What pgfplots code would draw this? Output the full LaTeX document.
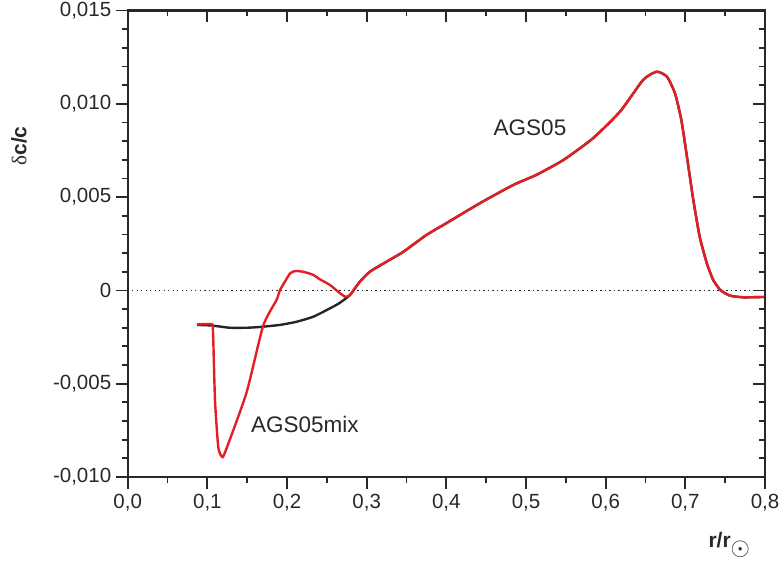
\documentclass[border=0pt]{standalone}
\usepackage{pgfplots}
\pgfplotsset{compat=1.18}
\usepackage{fontspec}
\setmainfont{Liberation Sans}
\newfontfamily\serif{Liberation Serif}

\definecolor{curvered}{RGB}{227,30,36}
\definecolor{txt}{RGB}{40,40,40}

\pgfplotstableread{
x y
0.087 -0.00182
0.100 -0.00180
0.105 -0.00182
0.107 -0.0021
0.1096 -0.0059
0.1137 -0.0084
0.118 -0.0089
0.122 -0.0087
0.149 -0.0055
0.170 -0.0019
0.187 -0.0005
0.191 0.0000
0.204 0.00092
0.212 0.00104
0.222 0.00098
0.233 0.00083
0.241 0.0006
0.254 0.00029
0.265 -0.0001
0.273 -0.00034
0.279 -0.00025
0.2915 0.00047
0.304 0.0010
0.325 0.00154
0.346 0.00207
0.375 0.00297
0.400 0.0036
0.442 0.00467
0.484 0.00565
0.513 0.00619
0.547 0.00699
0.584 0.00815
0.618 0.00958
0.647 0.01128
0.664 0.01172
0.677 0.01145
0.687 0.01056
0.695 0.00913
0.702 0.00717
0.710 0.00485
0.718 0.00288
0.727 0.00145
0.735 0.00056
0.744 0.00002
0.756 -0.00028
0.773 -0.00037
0.800 -0.00035
}\mixtable

\pgfplotstableread{
x y
0.087 -0.00185
0.105 -0.00188
0.128 -0.0020
0.150 -0.0020
0.166 -0.00196
0.191 -0.00185
0.212 -0.00168
0.233 -0.00141
0.254 -0.00096
0.265 -0.0007
0.279 -0.00025
0.2915 0.00047
0.304 0.0010
0.325 0.00154
0.346 0.00207
0.375 0.00297
0.400 0.0036
0.442 0.00467
0.484 0.00565
0.513 0.00619
0.547 0.00699
0.584 0.00815
0.618 0.00958
0.647 0.01128
0.664 0.01172
0.677 0.01145
0.687 0.01056
0.695 0.00913
0.702 0.00717
0.710 0.00485
0.718 0.00288
0.727 0.00145
0.735 0.00056
0.744 0.00002
0.756 -0.00028
0.773 -0.00037
0.800 -0.00035
}\agstable

\pgfplotsset{
  common/.style={
    scale only axis, width=637.3pt, height=466.5pt,
    xmin=0, xmax=0.8, ymin=-0.010, ymax=0.015,
    xtick={0,0.1,...,0.8}, ytick={-0.010,-0.005,0,0.005,0.010,0.015},
    minor x tick num=1, minor y tick num=4,
    major tick length=12pt, minor tick length=6pt,
    axis line style={line width=2.2pt, color=txt},
    every tick/.style={line width=1.8pt, color=txt},
    scaled ticks=false,
  }
}

\begin{document}
\begin{tikzpicture}
\begin{axis}[common, name=ax,
    tick align=outside, xtick pos=bottom, ytick pos=left,
    xticklabels={0{,}0,0{,}1,0{,}2,0{,}3,0{,}4,0{,}5,0{,}6,0{,}7,0{,}8},
    yticklabels={-0{,}010,-0{,}005,0,0{,}005,0{,}010,0{,}015},
    tick label style={font=\fontsize{20.5}{22}\selectfont, text=txt},
    xticklabel style={yshift=-2pt},
    yticklabel style={xshift=-1pt},
    every axis y label/.style={at={(rel axis cs:-0.1706,0.7096)}, anchor=center, rotate=90},
    every axis x label/.style={at={(rel axis cs:0.944,-0.146)}, anchor=center},
    ylabel={\fontsize{21}{24}\selectfont\color{txt}{\serif δ}\textbf{c/c}},
    xlabel={\fontsize{21}{24}\selectfont\color{txt}\textbf{r/r}\raisebox{-0.75ex}{\fontsize{27}{27}\selectfont$\odot$}},
    clip=false,
  ]
  \addplot[line width=1pt, color=txt, dash pattern=on 1.3pt off 3.2pt] coordinates {(0,0) (0.8,0)};
  \addplot[line width=2.4pt, color=black!85, smooth, tension=0.35] table[x=x,y=y] {\agstable};
  \addplot[line width=2.4pt, color=curvered, smooth, tension=0.35] table[x=x,y=y] {\mixtable};
  \node[font=\fontsize{22.5}{24}\selectfont, text=txt] at (axis cs:0.505,0.0087) {AGS05};
  \node[font=\fontsize{22.5}{24}\selectfont, text=txt] at (axis cs:0.2225,-0.00716) {AGS05mix};
\end{axis}
\begin{axis}[common,
    tick align=inside, xtick pos=top, ytick pos=right,
    xticklabels={}, yticklabels={},
  ]
\end{axis}
\pgfresetboundingbox
\path[use as bounding box] ([shift={(-127.7pt,-83pt)}]ax.south west) rectangle ([shift={(655.3pt,477pt)}]ax.south west);
\end{tikzpicture}
\end{document}
